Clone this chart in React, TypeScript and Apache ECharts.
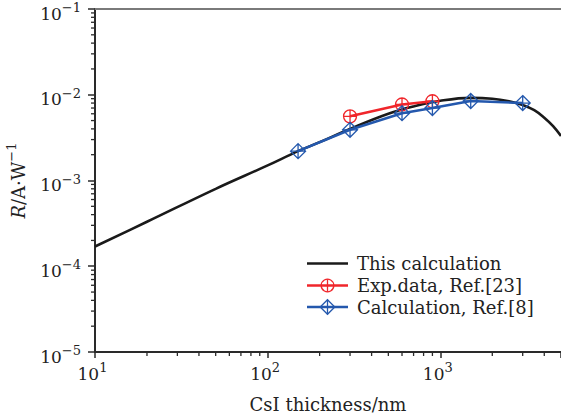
import React, { useEffect, useRef } from 'react';
import * as echarts from 'echarts';

const FONT = 'DejaVu Serif';

// This calculation (black curve)
const calcThickness = [10, 20, 50, 100, 150, 200, 300, 500, 700, 1000, 1500, 2000, 2500, 3000, 3500, 4000, 4500, 5000];
const calcR = [1.7e-4, 3.3e-4, 8.0e-4, 1.5e-3, 2.2e-3, 2.8e-3, 4.0e-3, 6.0e-3, 7.3e-3, 8.5e-3, 9.2e-3, 9.0e-3, 8.4e-3, 7.6e-3, 6.6e-3, 5.4e-3, 4.3e-3, 3.3e-3];

// Exp. data, Ref.[23]
const expThickness = [300, 600, 900];
const expR = [5.6e-3, 7.7e-3, 8.4e-3];

// Calculation, Ref.[8]
const refThickness = [150, 300, 600, 900, 1500, 3000];
const refR = [2.2e-3, 3.9e-3, 6.1e-3, 7.0e-3, 8.45e-3, 8.0e-3];

const legendNames = ['This calculation', 'Exp.data, Ref.[23]', 'Calculation, Ref.[8]'];

const xMinorTicks = [20, 30, 40, 50, 60, 70, 80, 90, 200, 300, 400, 500, 600, 700, 800, 900, 2000, 3000, 4000];
const yMinorTicks = [
  2e-5, 3e-5, 4e-5, 5e-5, 6e-5, 7e-5, 8e-5, 9e-5,
  2e-4, 3e-4, 4e-4, 5e-4, 6e-4, 7e-4, 8e-4, 9e-4,
  2e-3, 3e-3, 4e-3, 5e-3, 6e-3, 7e-3, 8e-3, 9e-3,
  2e-2, 3e-2, 4e-2, 5e-2, 6e-2, 7e-2, 8e-2, 9e-2,
];

const X_MIN = 10;
const X_MAX = 5000;
const Y_MIN = 1e-5;
const Y_MAX = 1e-1;

const AXIS_COLOR = '#2a2a2a';
const BLACK = '#1a1a1a';
const RED = '#f0262b';
const BLUE = '#2458ad';

const circlePlus = 'path://M0,-10 A10,10 0 1,1 0,10 A10,10 0 1,1 0,-10 Z M-10,0 L10,0 M0,-10 L0,10';
const diamondPlus = 'path://M0,-10 L10,0 L0,10 L-10,0 Z M-10,0 L10,0 M0,-10 L0,10';

const richLabel = {
  b: { fontFamily: FONT, fontSize: 17, color: '#222', lineHeight: 21, verticalAlign: 'bottom' },
  s: { fontFamily: FONT, fontSize: 13, color: '#222', verticalAlign: 'top' },
};

function isPow10(v: number) {
  const e = Math.log10(v);
  return Math.abs(e - Math.round(e)) < 1e-6;
}

function legendGraphics() {
  const lx1 = 307;
  const lx2 = 348;
  const cx = 327.5;
  const tx = 357;
  const ys = [263.5, 285.5, 307];
  const els: any[] = [];
  const colors = [BLACK, RED, BLUE];
  ys.forEach((y, i) => {
    els.push({
      type: 'line',
      shape: { x1: lx1, y1: y, x2: lx2, y2: y },
      style: { stroke: colors[i], lineWidth: 2.5 },
    });
    els.push({
      type: 'text',
      x: tx,
      y: y,
      style: { text: legendNames[i], font: `18px "${FONT}"`, fill: '#222', verticalAlign: 'middle', textVerticalAlign: 'middle' },
    });
  });
  els.push({ type: 'circle', shape: { cx, cy: ys[1], r: 6.3 }, style: { fill: 'none', stroke: RED, lineWidth: 1.3 } });
  els.push({ type: 'line', shape: { x1: cx, y1: ys[1] - 6.3, x2: cx, y2: ys[1] + 6.3 }, style: { stroke: RED, lineWidth: 1.3 } });
  const d = 7.3;
  els.push({
    type: 'polygon',
    shape: { points: [[cx, ys[2] - d], [cx + d, ys[2]], [cx, ys[2] + d], [cx - d, ys[2]]] },
    style: { fill: 'none', stroke: BLUE, lineWidth: 1.3 },
  });
  els.push({ type: 'line', shape: { x1: cx, y1: ys[2] - d, x2: cx, y2: ys[2] + d }, style: { stroke: BLUE, lineWidth: 1.3 } });
  return els;
}

export default function App() {
  const ref = useRef<HTMLDivElement>(null);
  useEffect(() => {
    const chart = echarts.init(ref.current!, null, { renderer: 'svg' });
    const option: any = {
      animation: false,
      backgroundColor: '#fff',
      grid: { left: 95, top: 9, right: 0, bottom: 67, containLabel: false, outerBoundsMode: 'none' },
      graphic: legendGraphics(),
      xAxis: [
        {
          type: 'log',
          logBase: 10,
          min: X_MIN,
          max: X_MAX,
          interval: 1,
          position: 'bottom',
          name: 'CsI thickness/nm',
          nameLocation: 'middle',
          nameGap: 43,
          nameTextStyle: { fontFamily: FONT, fontSize: 18, color: '#222' },
          axisLine: { lineStyle: { color: AXIS_COLOR, width: 2 } },
          axisTick: { length: 6, lineStyle: { color: AXIS_COLOR, width: 1.5 } },
          axisLabel: {
            margin: 9,
            padding: [0, 5, 0, 0],
            formatter: (v: number) => (isPow10(v) ? `{b|10}{s|${Math.round(Math.log10(v))}}` : ''),
            rich: richLabel,
          },
          splitLine: { show: false },
        },
        {
          type: 'log',
          logBase: 10,
          min: X_MIN,
          max: X_MAX,
          position: 'top',
          axisLine: { lineStyle: { color: '#7a7a7a', width: 2 } },
          axisTick: { show: false },
          axisLabel: { show: false },
          splitLine: { show: false },
        },
      ],
      yAxis: {
        type: 'log',
        logBase: 10,
        min: Y_MIN,
        max: Y_MAX,
        interval: 1,
        name: '{i|R}{n|/A·W}{s|−1}',
        nameLocation: 'middle',
        nameGap: 68,
        nameTextStyle: {
          rich: {
            i: { fontFamily: FONT, fontSize: 18, fontStyle: 'italic', color: '#222', lineHeight: 22, verticalAlign: 'bottom' },
            n: { fontFamily: FONT, fontSize: 18, color: '#222', lineHeight: 22, verticalAlign: 'bottom' },
            s: { fontFamily: FONT, fontSize: 13, color: '#222', verticalAlign: 'top' },
          },
        },
        axisLine: { show: true, lineStyle: { color: AXIS_COLOR, width: 2 } },
        axisTick: { show: true, length: 7, lineStyle: { color: AXIS_COLOR, width: 1.5 } },
        axisLabel: {
          margin: 14,
          padding: [5, 0, 0, 0],
          formatter: (v: number) => (isPow10(v) ? `{b|10}{s|−${Math.abs(Math.round(Math.log10(v)))}}` : ''),
          rich: richLabel,
        },
        splitLine: { show: false },
      },
      series: [
        {
          name: legendNames[0],
          type: 'line',
          smooth: 0.4,
          symbol: 'none',
          data: calcThickness.map((x, i) => [x, calcR[i]]),
          lineStyle: { color: BLACK, width: 2.6 },
          itemStyle: { color: BLACK },
          z: 3,
        },
        {
          name: legendNames[1],
          type: 'line',
          symbol: circlePlus,
          symbolSize: 13,
          data: expThickness.map((x, i) => [x, expR[i]]),
          lineStyle: { color: RED, width: 2.5 },
          itemStyle: { color: 'rgba(255,255,255,0)', borderColor: RED, borderWidth: 1.3 },
          z: 4,
        },
        {
          name: legendNames[2],
          type: 'line',
          symbol: diamondPlus,
          symbolSize: 15,
          data: refThickness.map((x, i) => [x, refR[i]]),
          lineStyle: { color: BLUE, width: 2.6 },
          itemStyle: { color: 'rgba(255,255,255,0)', borderColor: BLUE, borderWidth: 1.3 },
          z: 5,
        },
        {
          type: 'custom',
          silent: true,
          clip: false,
          data: xMinorTicks.map((v) => [v, Y_MIN]),
          renderItem: (params: any, api: any) => {
            const p = api.coord([api.value(0), api.value(1)]);
            return {
              type: 'line',
              shape: { x1: p[0], y1: p[1], x2: p[0], y2: p[1] + 4 },
              style: { stroke: AXIS_COLOR, lineWidth: 1.3 },
            };
          },
          z: 1,
        },
        {
          type: 'custom',
          silent: true,
          clip: false,
          data: yMinorTicks.map((v) => [X_MIN, v]),
          renderItem: (params: any, api: any) => {
            const p = api.coord([api.value(0), api.value(1)]);
            return {
              type: 'line',
              shape: { x1: p[0], y1: p[1], x2: p[0] - 4, y2: p[1] },
              style: { stroke: AXIS_COLOR, lineWidth: 1.3 },
            };
          },
          z: 1,
        },
      ],
    };
    chart.setOption(option);
    return () => chart.dispose();
  }, []);
  return <div ref={ref} style={{ position: 'absolute', left: 0, top: 0, width: 561, height: 419 }} />;
}
